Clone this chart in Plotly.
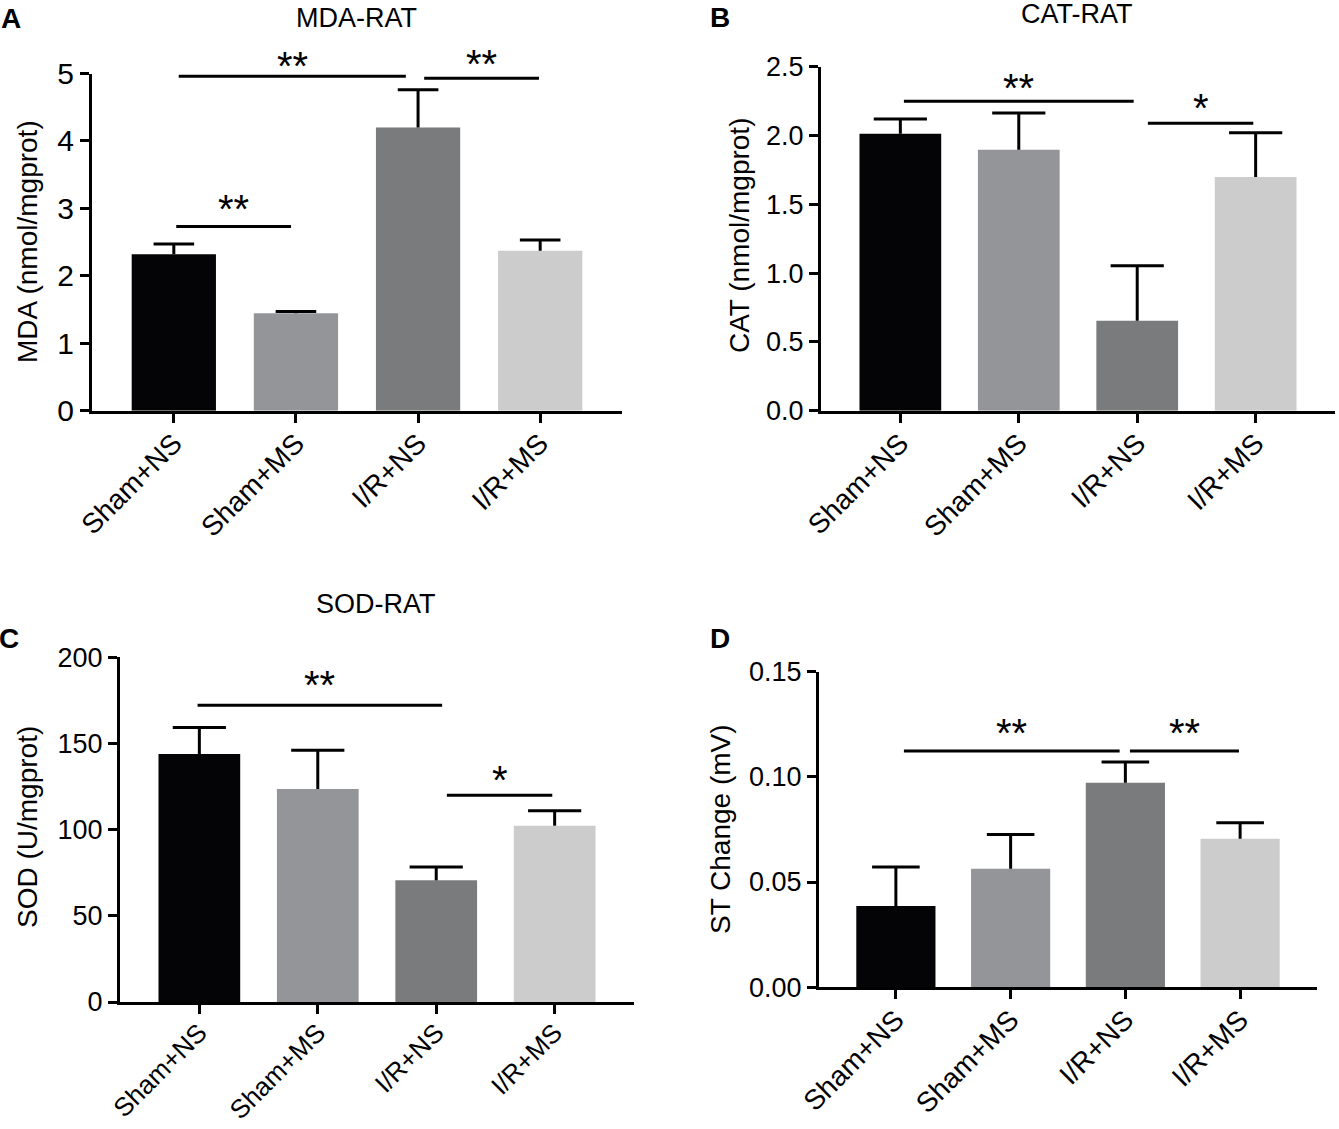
import plotly.graph_objects as go

W, H = 1339, 1129

groups = ["Sham+NS", "Sham+MS", "I/R+NS", "I/R+MS"]
bar_colors = ["#040407", "#939598", "#797b7c", "#cbcccb"]

# values (mean, upper SEM)
mda_mean = [2.32, 1.445, 4.20, 2.37]
mda_sem = [0.15, 0.025, 0.56, 0.16]
cat_mean = [2.013, 1.897, 0.654, 1.698]
cat_sem = [0.107, 0.266, 0.40, 0.322]
sod_mean = [143.9, 123.6, 70.6, 102.3]
sod_sem = [15.3, 22.4, 7.7, 8.7]
st_mean = [0.0386, 0.0563, 0.0972, 0.0705]
st_sem = [0.0185, 0.0163, 0.0098, 0.0077]

# significance brackets: (from, to, line level, star level, label)
mda_sig = [(0.04, 1.90, 4.96, 5.16, "**"), (2.05, 2.99, 4.93, 5.18, "**"),
           (0.02, 0.96, 2.73, 3.03, "**")]
cat_sig = [(0.03, 1.97, 2.249, 2.367, "**"), (2.09, 2.98, 2.089, 2.222, "*")]
sod_sig = [(-0.015, 2.05, 172.2, 185.7, "**"), (2.09, 2.98, 119.9, 130.7, "*")]
st_sig = [(0.07, 1.95, 0.1122, 0.1220, "**"), (2.04, 2.99, 0.1122, 0.1220, "**")]

FONT = "Arial, Liberation Sans, sans-serif"
STAR_FS = 40


def px(x):
    return x / W


def py(y):
    return 1 - y / H


panels = [
    dict(mean=mda_mean, sem=mda_sem, sig=mda_sig, yr=[0, 5], dtick=1, fmt="d",
         ytitle="MDA (nmol/mgprot)", title="MDA-RAT", letter="A",
         dom=(92, 622, 73.5, 410.7), ytpos=(27, 242), tpos=(356, 18),
         lpos=(11, 18), tfs=30, xfs=28, cap=29),
    dict(mean=cat_mean, sem=cat_sem, sig=cat_sig, yr=[0, 2.5], dtick=0.5, fmt=".1f",
         ytitle="CAT (nmol/mgprot)", title="CAT-RAT", letter="B",
         dom=(821, 1335, 66.7, 410.7), ytpos=(740, 236), tpos=(1077, 14),
         lpos=(720, 17), tfs=27, xfs=28, cap=38),
    dict(mean=sod_mean, sem=sod_sem, sig=sod_sig, yr=[0, 200], dtick=50, fmt="d",
         ytitle="SOD (U/mgprot)", title="SOD-RAT", letter="C",
         dom=(120, 634, 657.3, 1002), ytpos=(27, 827), tpos=(376, 604),
         lpos=(9, 638), tfs=27, xfs=26, cap=38),
    dict(mean=st_mean, sem=st_sem, sig=st_sig, yr=[0, 0.15], dtick=0.05, fmt=".2f",
         ytitle="ST Change (mV)", title=None, letter="D",
         dom=(819, 1317, 671.5, 987.3), ytpos=(720, 829), tpos=None,
         lpos=(720, 638), tfs=27, xfs=28, cap=34),
]

fig = go.Figure()
annotations = []
shapes = []

for i, p in enumerate(panels):
    n = "" if i == 0 else str(i + 1)
    xa, ya = "x" + n, "y" + n
    x0, x1, y0, y1 = p["dom"]
    ppu = (y1 - y0) / (p["yr"][1] - p["yr"][0])

    # bars with the error stem only
    fig.add_trace(go.Bar(
        x=groups, y=p["mean"], xaxis=xa, yaxis=ya, width=0.69,
        marker=dict(color=bar_colors, line=dict(width=0)),
        error_y=dict(type="data", array=p["sem"], arrayminus=[0] * 4,
                     symmetric=False, color="black", thickness=3, width=0),
    ))
    # caps on top only
    fig.add_trace(go.Scatter(
        x=groups, y=[m + s for m, s in zip(p["mean"], p["sem"])],
        xaxis=xa, yaxis=ya, mode="markers", hoverinfo="skip",
        marker=dict(symbol="line-ew", size=p["cap"],
                    line=dict(color="black", width=3)),
    ))

    fig.update_layout(**{
        "xaxis" + n: dict(
            domain=[px(x0), px(x1)], anchor=ya, type="category", automargin=False,
            range=[-0.67, 3.67], showline=True, linewidth=3, linecolor="black",
            ticks="outside", ticklen=9, tickwidth=3, tickcolor="black",
            tickangle=-45, ticklabelstandoff=-7, showgrid=False, zeroline=False,
            tickfont=dict(family=FONT, size=p["xfs"], color="black"),
        ),
        "yaxis" + n: dict(
            domain=[py(y1), py(y0)], anchor=xa, range=p["yr"], dtick=p["dtick"],
            tick0=0, tickformat=p["fmt"], showline=True, linewidth=3,
            automargin=False, linecolor="black", ticks="outside", ticklen=9,
            tickwidth=3, tickcolor="black", showgrid=False, zeroline=False,
            tickfont=dict(family=FONT, size=p["tfs"], color="black"),
        ),
    })
    for a, b, ly, sy, lab in p["sig"]:
        shapes.append(dict(type="line", xref=xa, yref=ya, x0=a, x1=b, y0=ly, y1=ly,
                           line=dict(color="black", width=3)))
        annotations.append(dict(xref=xa, yref=ya, x=(a + b) / 2, y=ly, text=lab,
                                showarrow=False, yanchor="middle",
                                yshift=(sy - ly) * ppu - 0.07 * STAR_FS,
                                font=dict(family=FONT, size=STAR_FS, color="black")))
    annotations.append(dict(xref="paper", yref="paper", x=px(p["ytpos"][0]),
                            y=py(p["ytpos"][1]), text=p["ytitle"], textangle=-90,
                            showarrow=False, xanchor="center", yanchor="middle",
                            font=dict(family=FONT, size=28, color="black")))
    if p["title"]:
        annotations.append(dict(xref="paper", yref="paper", x=px(p["tpos"][0]),
                                y=py(p["tpos"][1]), text=p["title"], showarrow=False,
                                xanchor="center", yanchor="middle",
                                font=dict(family=FONT, size=27, color="black")))
    annotations.append(dict(xref="paper", yref="paper", x=px(p["lpos"][0]),
                            y=py(p["lpos"][1]), text="<b>" + p["letter"] + "</b>",
                            showarrow=False, xanchor="center", yanchor="middle",
                            font=dict(family=FONT, size=28, color="black")))

fig.update_layout(
    width=W, height=H, margin=dict(l=0, r=0, t=0, b=0),
    paper_bgcolor="white", plot_bgcolor="white", showlegend=False,
    annotations=annotations, shapes=shapes,
)

fig.write_html("out.html", config={"displayModeBar": False},
               post_script="document.body.style.margin='0';")
